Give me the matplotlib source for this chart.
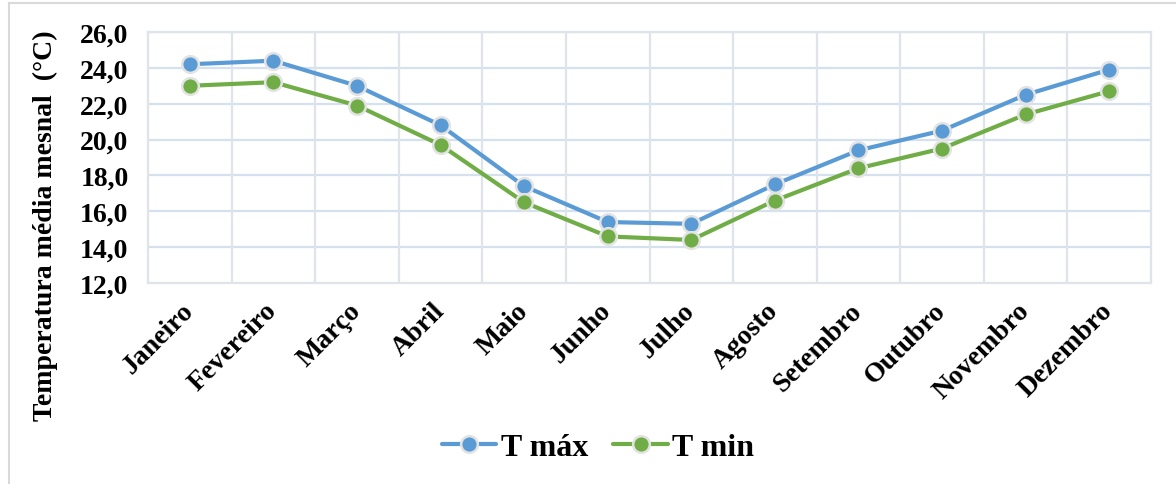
import matplotlib.pyplot as plt
from matplotlib.lines import Line2D
from matplotlib.ticker import FuncFormatter

meses = ["Janeiro", "Fevereiro", "Março", "Abril", "Maio", "Junho",
         "Julho", "Agosto", "Setembro", "Outubro", "Novembro", "Dezembro"]
t_max = [24.2, 24.4, 23.0, 20.8, 17.4, 15.4, 15.3, 17.5, 19.4, 20.5, 22.5, 23.9]
t_min = [23.0, 23.2, 21.9, 19.7, 16.5, 14.6, 14.4, 16.6, 18.4, 19.5, 21.4, 22.7]

plt.rcParams["font.family"] = ["Liberation Serif", "DejaVu Serif"]
plt.rcParams["font.weight"] = "bold"

W, H = 1176, 485
fig = plt.figure(figsize=(W / 100, H / 100), dpi=100)
ax = fig.add_axes([148 / W, 1 - 284 / H, (1151 - 148) / W, (284 - 33) / H])

x = range(len(meses))
estilo = dict(lw=3, marker="o", ms=12, mew=1.8, mec="#e3e3e3", solid_capstyle="round")
ax.plot(x, t_max, color="#5b9bd5", mfc="#5b9bd5", label="T máx", **estilo)
ax.plot(x, t_min, color="#70ad47", mfc="#70ad47", label="T min", **estilo)

ax.set_xlim(-0.5, len(meses) - 0.5)
ax.set_ylim(12, 26)
ax.set_yticks(range(12, 27, 2))
ax.yaxis.set_major_formatter(FuncFormatter(lambda v, p: f"{v:.1f}".replace(".", ",")))

# grade: horizontais nos valores, verticais entre as categorias
for v in range(14, 27, 2):
    ax.axhline(v, color="#d5e1ef", lw=1.6, zorder=0)
for b in range(1, len(meses)):
    ax.axvline(b - 0.5, color="#dfe3ea", lw=1.6, zorder=0)
for s in ax.spines.values():
    s.set_color("#dfe3ea")
    s.set_linewidth(1.6)

ax.set_xticks(list(x))
ax.set_xticklabels(meses, rotation=45, ha="right", va="center",
                   rotation_mode="anchor", fontsize=20, fontweight="bold")
ax.tick_params(axis="x", length=0, pad=17)
ax.tick_params(axis="y", length=0, pad=14, labelsize=20)
for t in ax.get_yticklabels():
    t.set_fontweight("bold")

fig.text(45 / W, 1 - 226 / H, "Temperatura média mesnal  (°C)", rotation=90,
         ha="center", va="center", fontsize=20, fontweight="bold")

leg = fig.legend(*ax.get_legend_handles_labels(), loc="center",
                 bbox_to_anchor=(598 / W, 1 - 448 / H), ncol=2, frameon=False,
                 prop={"size": 23, "weight": "bold"}, handlelength=1.7,
                 handletextpad=0.15, columnspacing=0.8)

# moldura da área do gráfico
fig.add_artist(Line2D([9 / W, 1], [1 - 4 / H, 1 - 4 / H], color="#d9d9d9", lw=1.5))
fig.add_artist(Line2D([9 / W, 9 / W], [0, 1 - 4 / H], color="#d9d9d9", lw=1.5))

fig.savefig("out.png", dpi=100)
